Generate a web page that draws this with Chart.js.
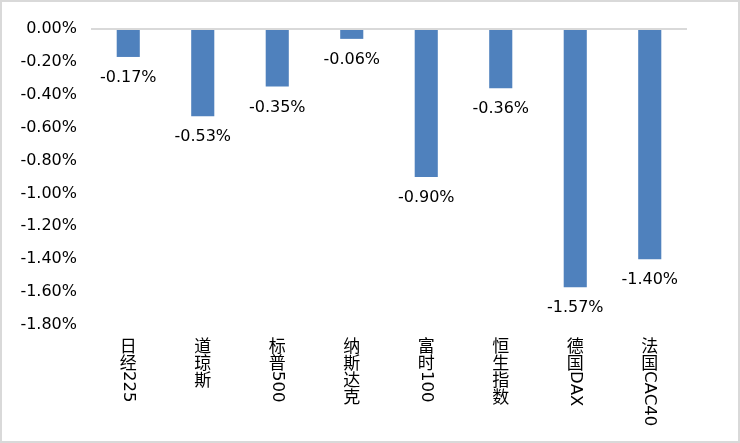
<!DOCTYPE html>
<html>
<head>
<meta charset="utf-8">
<script src="https://cdn.jsdelivr.net/npm/chart.js@4"></script>
<style>
  html, body { margin: 0; padding: 0; background: #fff; }
  #wrap { width: 740px; height: 443px; }
</style>
</head>
<body>
<div id="wrap"><canvas id="myChart" width="740" height="443"></canvas></div>
<script>
// chart data
var categories = ["日经225", "道琼斯", "标普500", "纳斯达克", "富时100", "恒生指数", "德国DAX", "法国CAC40"];
var changes = [-0.17, -0.53, -0.35, -0.06, -0.90, -0.36, -1.57, -1.40];
var yMin = -1.8, yMax = 0, yStep = 0.2;

var FONT = '"DejaVu Sans", "Noto Sans CJK SC", sans-serif';

// white background + light gray frame
var framePlugin = {
    id: "frame",
    beforeDraw: function (chart) {
        var c = chart.ctx;
        c.save();
        c.fillStyle = "#fff";
        c.fillRect(0, 0, chart.width, chart.height);
        c.strokeStyle = "#D9D9D9";
        c.lineWidth = 2;
        c.strokeRect(1, 1, chart.width - 2, chart.height - 2);
        c.restore();
    }
};

// value labels under each bar
var valueLabels = {
    id: "valueLabels",
    afterDatasetsDraw: function (chart) {
        var c = chart.ctx;
        var meta = chart.getDatasetMeta(0);
        c.save();
        c.font = "16px " + FONT;
        c.fillStyle = "#000";
        c.textAlign = "center";
        c.textBaseline = "middle";
        meta.data.forEach(function (bar, i) {
            c.fillText(changes[i].toFixed(2) + "%", bar.x, bar.y + 21);
        });
        c.restore();
    }
};

// vertical category labels: CJK upright, latin turned 90deg clockwise
var verticalLabels = {
    id: "verticalLabels",
    afterDraw: function (chart) {
        var c = chart.ctx;
        var xs = chart.scales.x;
        c.save();
        c.fillStyle = "#000";
        categories.forEach(function (label, i) {
            var x = xs.getPixelForValue(i);
            var y = 337;
            for (var k = 0; k < label.length; k++) {
                var ch = label[k];
                if (ch.charCodeAt(0) > 0x2E80) {
                    c.font = '17px "Noto Sans CJK SC", sans-serif';
                    c.textAlign = "center";
                    c.textBaseline = "middle";
                    c.fillText(ch, x, y + 8.5);
                    y += 17;
                } else {
                    c.font = "16.5px " + FONT;
                    var w = c.measureText(ch).width;
                    c.save();
                    c.translate(x, y);
                    c.rotate(Math.PI / 2);
                    c.textAlign = "left";
                    c.textBaseline = "middle";
                    c.fillText(ch, 0, 0);
                    c.restore();
                    y += w;
                }
            }
        });
        c.restore();
    }
};

window.onload = function () {
    var ctx = document.getElementById("myChart").getContext("2d");
    var myChart = new Chart(ctx, {
        type: "bar",
        data: {
            labels: categories,
            datasets: [{
                data: changes,
                backgroundColor: "#4F81BD",
                categoryPercentage: 1,
                barPercentage: 0.31
            }]
        },
        options: {
            responsive: false,
            animation: false,
            layout: { padding: { left: 0, right: 53, top: 29, bottom: 0 } },
            plugins: {
                legend: { display: false },
                tooltip: { enabled: false }
            },
            scales: {
                x: {
                    grid: { display: false },
                    border: { display: false },
                    ticks: { display: false },
                    afterFit: function (s) { s.height = 118; }
                },
                y: {
                    min: yMin,
                    max: yMax,
                    ticks: {
                        stepSize: yStep,
                        padding: 14,
                        color: "#000",
                        font: { size: 16, family: FONT },
                        callback: function (v) { return v.toFixed(2) + "%"; }
                    },
                    grid: {
                        drawTicks: false,
                        lineWidth: 2,
                        color: function (c) {
                            return c.tick && Math.abs(c.tick.value) < 1e-9 ? "#D9D9D9" : "rgba(0,0,0,0)";
                        }
                    },
                    border: { display: false },
                    afterFit: function (s) { s.width = 91; }
                }
            }
        },
        plugins: [framePlugin, valueLabels, verticalLabels]
    });
};
</script>
</body>
</html>
